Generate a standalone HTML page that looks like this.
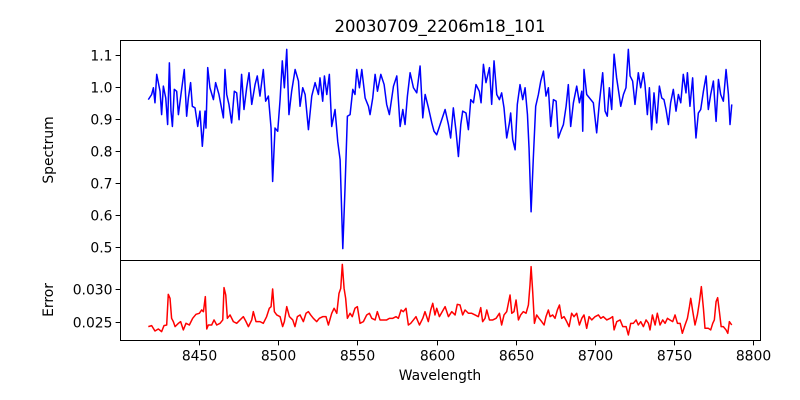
<!DOCTYPE html>
<html><head><meta charset="utf-8"><style>
html,body{margin:0;padding:0;background:#fff}
svg{display:block;font-family:"DejaVu Sans","Liberation Sans",sans-serif}
</style></head><body>
<svg id="chart" width="800" height="400" viewBox="0 0 800 400">
<rect x="0" y="0" width="800" height="400" fill="#fff"/>
<text x="440" y="32" text-anchor="middle" font-size="16.5" fill="#000">20030709_2206m18_101</text>
<text transform="translate(53,150) rotate(-90)" text-anchor="middle" font-size="13.9">Spectrum</text>
<text transform="translate(53,300) rotate(-90)" text-anchor="middle" font-size="13.9">Error</text>
<text x="440" y="380" text-anchor="middle" font-size="13.9">Wavelength</text>
<g id="marks"></g>
<g id="axes"></g>
</svg>
<script>
const specWave=[8418.0,8420.1,8421.2,8422.2,8423.3,8425.4,8426.4,8427.5,8429.0,8430.2,8431.3,8432.3,8433.2,8434.4,8435.9,8437.0,8438.6,8440.7,8442.2,8443.3,8444.7,8445.8,8447.5,8449.2,8450.6,8452.1,8453.8,8454.4,8455.5,8456.9,8459.1,8460.5,8462.6,8465.4,8466.4,8467.5,8468.9,8470.6,8472.3,8473.8,8475.3,8476.9,8478.4,8480.1,8481.6,8483.3,8485.4,8486.8,8488.5,8490.6,8492.1,8493.8,8495.5,8496.5,8498.0,8499.7,8501.2,8502.6,8503.9,8505.4,8506.8,8508.5,
8510.7,8512.8,8513.8,8515.5,8517.0,8519.1,8521.2,8523.3,8525.4,8526.4,8528.1,8529.2,8530.7,8532.3,8533.8,8535.9,8537.6,8539.1,8540.8,8542.2,8543.7,8545.4,8547.1,8548.5,8549.6,8551.3,8552.8,8554.9,8557.0,8558.0,8559.7,8561.2,8562.7,8564.8,8566.9,8568.5,8570.2,8572.8,8574.9,8577.0,8578.7,8580.1,8581.6,8583.3,8585.4,8587.5,8589.6,8591.3,8592.8,8594.9,8597.0,8598.4,8600.1,
8605.4,8607.5,8608.9,8610.6,8612.3,8613.8,8615.3,8616.5,8618.6,8620.1,8621.6,8623.3,8624.9,8627.0,8628.1,8629.6,8631.2,8633.4,8634.8,8636.3,8638.0,8639.7,8641.1,8642.6,8644.3,8646.0,8646.8,8648.1,8649.6,8651.0,8652.7,8654.4,8655.9,8657.4,8658.4,8659.7,8661.1,8662.6,8664.3,8665.8,8667.5,8669.1,8670.6,8672.1,8673.8,8675.5,8676.9,8678.4,8680.1,8681.8,8683.2,8684.7,8686.4,8688.5,8690.2,8691.7,8692.3,8693.1,8694.8,
8699.0,8701.1,8702.8,8704.9,8706.4,8707.8,8709.1,8710.6,8712.1,8713.7,8715.4,8716.3,8718.0,8719.6,8721.1,8722.2,8723.8,8725.3,8727.4,8728.9,8730.6,8731.6,8733.1,8734.4,8735.8,8737.3,8739.0,8740.7,8742.2,8743.6,8744.9,8746.4,8747.8,8749.5,8751.2,8752.7,8754.2,8755.8,8757.5,8758.4,8760.0,8761.7,8762.6,8763.8,8765.3,8766.8,8768.5,8770.2,8771.6,8773.1,8774.8,8776.5,8778.0,8779.4,8781.1,8782.8,8784.3,8785.3,8786.4];
const specFlux=[0.962,0.978,0.999,0.952,1.041,0.988,0.915,1.004,0.967,0.884,1.077,0.926,0.878,0.994,0.988,0.915,0.978,1.056,0.910,0.967,1.015,0.941,0.936,0.878,0.926,0.816,0.926,0.873,1.062,0.999,0.962,1.015,0.978,0.905,1.056,0.978,0.947,0.889,0.988,0.983,0.899,1.041,0.931,0.999,1.046,0.947,1.009,1.036,0.973,1.056,0.957,0.973,0.873,0.706,0.873,0.863,0.962,1.083,0.999,1.119,0.915,0.988,
1.056,1.020,0.941,0.999,0.978,0.868,0.973,1.015,0.978,1.030,0.957,1.036,0.978,1.041,0.878,0.931,0.831,0.774,0.496,0.685,0.910,0.915,0.994,0.978,1.056,0.999,1.056,0.967,0.941,0.915,0.967,1.041,0.988,1.041,1.009,0.947,0.915,1.004,1.036,0.878,0.931,0.884,0.973,1.046,0.999,0.983,1.067,0.905,0.978,0.936,0.889,0.863,0.852,
0.931,0.884,0.842,0.936,0.863,0.784,0.884,0.926,0.920,0.868,0.962,0.952,1.009,0.988,0.952,1.072,1.015,1.062,0.947,1.083,0.978,0.962,0.983,0.936,0.842,0.889,0.920,0.837,0.805,0.947,1.009,0.962,0.999,0.915,0.810,0.611,0.779,0.941,0.978,1.020,1.051,0.973,0.999,0.878,0.962,0.957,0.842,0.863,0.884,0.941,1.009,0.878,0.952,1.004,0.952,0.988,0.863,1.056,0.978,
0.952,0.858,0.952,1.046,0.926,0.910,0.999,0.931,1.104,1.030,0.973,0.941,0.978,0.999,1.119,1.036,1.020,0.947,1.046,0.999,1.046,1.009,0.915,0.999,0.868,0.983,0.889,1.004,0.967,0.962,0.931,0.884,0.952,0.994,0.926,0.978,0.952,1.041,0.983,1.046,0.941,1.030,0.941,0.842,0.920,0.931,0.988,1.036,0.931,0.978,1.020,0.894,1.025,0.978,0.957,1.056,0.978,0.884,0.947];
const errWave=[8418.0,8420.1,8422.2,8424.3,8426.4,8427.9,8429.6,8430.6,8431.7,8432.7,8433.8,8434.9,8437.0,8438.4,8440.1,8441.8,8443.9,8446.0,8448.1,8450.2,8451.7,8452.8,8454.0,8454.9,8455.9,8458.0,8459.5,8461.2,8463.3,8465.0,8465.8,8466.9,8467.9,8469.6,8471.7,8473.8,8475.9,8478.0,8479.7,8481.2,8483.3,8484.3,8486.0,8488.5,8490.6,8492.7,8494.4,8495.5,8496.5,8497.6,8499.1,8501.2,8502.8,8503.9,8505.4,8507.1,8509.2,8510.6,8512.1,8513.8,8515.9,8517.6,8519.1,8520.5,8522.2,8524.3,8526.0,8528.1,8530.2,8531.7,8533.8,8535.3,8537.0,8538.4,8539.5,8540.5,8541.6,8542.6,8543.7,8545.4,8546.8,8548.5,8550.0,8551.7,8553.8,8555.9,8557.6,8559.1,8561.2,8562.6,8564.3,8566.4,8568.5,8570.2,8572.3,8574.4,8575.9,8577.6,8579.0,8580.7,8582.2,8583.7,8585.4,8587.0,8589.2,8591.3,8592.7,8594.8,8596.3,8597.6,8599.0,8600.1,8601.8,
8605.4,8607.5,8609.6,8611.7,8613.1,8614.8,8616.5,8618.0,8620.1,8622.2,8624.3,8626.4,8627.9,8629.1,8630.6,8631.7,8633.4,8635.5,8637.6,8639.7,8641.1,8642.6,8644.3,8646.4,8647.5,8648.9,8650.2,8651.7,8653.1,8654.8,8656.5,8658.0,8659.0,8659.7,8660.7,8661.8,8663.2,8664.7,8666.4,8667.9,8669.1,8670.6,8671.7,8673.3,8674.8,8676.3,8677.6,8679.0,8680.5,8682.2,8683.7,8685.3,8686.8,8688.5,8690.2,8691.7,8693.1,8694.8,8696.3,8698.0,8700.1,8702.2,8703.7,8705.3,8707.5,8709.6,8711.2,8712.1,8713.8,8715.9,8717.6,8719.7,8721.1,8722.6,8724.3,8726.0,8727.4,8728.9,8730.6,8732.3,8733.8,8734.8,8736.3,8738.0,8739.4,8741.1,8742.8,8744.3,8745.8,8747.4,8749.1,8750.6,8752.1,8753.8,8755.2,8756.9,8758.4,8759.7,8760.5,8761.8,8763.2,8764.7,8766.0,8767.2,8768.5,8769.5,8771.6,8773.1,8774.4,8775.4,8776.5,8777.5,8778.6,8779.7,8781.1,8782.8,8783.9,8784.9,8786.4];
const errVal=[0.02424,0.02439,0.02357,0.02388,0.02347,0.02439,0.02449,0.02922,0.02861,0.02552,0.02501,0.02424,0.02475,0.02501,0.02373,0.02475,0.02449,0.02552,0.02614,0.02630,0.02681,0.02655,0.02887,0.02388,0.02449,0.02449,0.02527,0.02449,0.02475,0.02527,0.03025,0.02912,0.02552,0.02604,0.02501,0.02475,0.02527,0.02578,0.02501,0.02424,0.02527,0.02655,0.02501,0.02501,0.02475,0.02578,0.02707,0.02732,0.03005,0.02655,0.02604,0.02578,0.02424,0.02501,0.02732,0.02578,0.02527,0.02424,0.02578,0.02604,0.02501,0.02630,0.02655,0.02604,0.02552,0.02501,0.02552,0.02578,0.02578,0.02449,0.02630,0.02707,0.02630,0.02938,0.03015,0.03385,0.03015,0.02861,0.02552,0.02630,0.02578,0.02707,0.02732,0.02475,0.02501,0.02604,0.02630,0.02552,0.02527,0.02655,0.02527,0.02527,0.02527,0.02552,0.02552,0.02578,0.02552,0.02681,0.02655,0.02707,0.02449,0.02475,0.02527,0.02578,0.02449,0.02552,0.02655,0.02501,0.02681,0.02784,0.02604,0.02707,0.02578,
0.02732,0.02578,0.02655,0.02604,0.02768,0.02758,0.02604,0.02681,0.02630,0.02630,0.02604,0.02578,0.02717,0.02501,0.02552,0.02681,0.02527,0.02527,0.02552,0.02630,0.02449,0.02604,0.02655,0.02912,0.02630,0.02655,0.02835,0.02527,0.02604,0.02655,0.02630,0.02758,0.03066,0.03349,0.02964,0.02475,0.02604,0.02552,0.02501,0.02449,0.02578,0.02681,0.02578,0.02604,0.02552,0.02681,0.02758,0.02552,0.02578,0.02501,0.02424,0.02630,0.02578,0.02630,0.02449,0.02552,0.02604,0.02398,0.02578,0.02527,0.02578,0.02604,0.02552,0.02578,0.02527,0.02552,0.02578,0.02373,0.02501,0.02527,0.02424,0.02424,0.02295,0.02475,0.02475,0.02527,0.02449,0.02501,0.02424,0.02527,0.02475,0.02373,0.02604,0.02449,0.02630,0.02449,0.02527,0.02475,0.02552,0.02527,0.02501,0.02604,0.02475,0.02475,0.02321,0.02449,0.02552,0.02732,0.02861,0.02655,0.02449,0.02604,0.02809,0.03041,0.02707,0.02398,0.02398,0.02373,0.02475,0.02527,0.02809,0.02871,0.02655,0.02424,0.02424,0.02373,0.02321,0.02501,0.02449];
const xTicks=[8450,8500,8550,8600,8650,8700,8750,8800];
const specTicks=[0.5,0.6,0.7,0.8,0.9,1.0,1.1];
const errTicks=[0.025,0.030];

const L=120.5,R=760.5,T=40.5,M=260.5,B=340.5;
function xs(w){return 199+(w-8450)*1.5837;}
function ys(v){return 247.3-(v-0.5)*319.7;}
function ye(e){return 321.7-(e-0.025)*6480;}
const NS='http://www.w3.org/2000/svg';
const marks=document.getElementById('marks'), axes=document.getElementById('axes');
function mk(tag,attrs,parent){const e=document.createElementNS(NS,tag);for(const k in attrs)e.setAttribute(k,attrs[k]);parent.appendChild(e);return e;}

let d='';specWave.forEach((w,i)=>{d+=(i?'L':'M')+xs(w).toFixed(2)+' '+ys(specFlux[i]).toFixed(2);});
const sp=mk('path',{d:d,fill:'none',stroke:'#0000ff','stroke-width':1.5,'stroke-linejoin':'round'},marks);


d='';errWave.forEach((w,i)=>{d+=(i?'L':'M')+xs(w).toFixed(2)+' '+ye(errVal[i]).toFixed(2);});
const ep=mk('path',{d:d,fill:'none',stroke:'#ff0000','stroke-width':1.5,'stroke-linejoin':'round'},marks);



const f1=mk('rect',{x:L,y:T,width:R-L,height:M-T,fill:'none',stroke:'#000','stroke-width':1},axes);


const f2=mk('rect',{x:L,y:M,width:R-L,height:B-M,fill:'none',stroke:'#000','stroke-width':1},axes);



xTicks.forEach(t=>{const x=Math.round(xs(t))+0.5;
 const tk=mk('line',{x1:x,x2:x,y1:B,y2:B+4.9,stroke:'#000','stroke-width':1},axes);
 
 
 const tx=mk('text',{x:x,y:B+20,'text-anchor':'middle','font-size':13.9},axes);tx.textContent=t;
 
 });
specTicks.forEach(t=>{const y=Math.round(ys(t))+0.5;
 const tk=mk('line',{x1:L-4.9,x2:L,y1:y,y2:y,stroke:'#000','stroke-width':1},axes);
 
 
 const tx=mk('text',{x:L-8,y:y+5,'text-anchor':'end','font-size':13.9},axes);tx.textContent=t.toFixed(1);
 
 });
errTicks.forEach(t=>{const y=Math.round(ye(t))+0.5;
 const tk=mk('line',{x1:L-4.9,x2:L,y1:y,y2:y,stroke:'#000','stroke-width':1},axes);
 
 
 const tx=mk('text',{x:L-8,y:y+5,'text-anchor':'end','font-size':13.9},axes);tx.textContent=t.toFixed(3);
 
 });
</script>
</body></html>
